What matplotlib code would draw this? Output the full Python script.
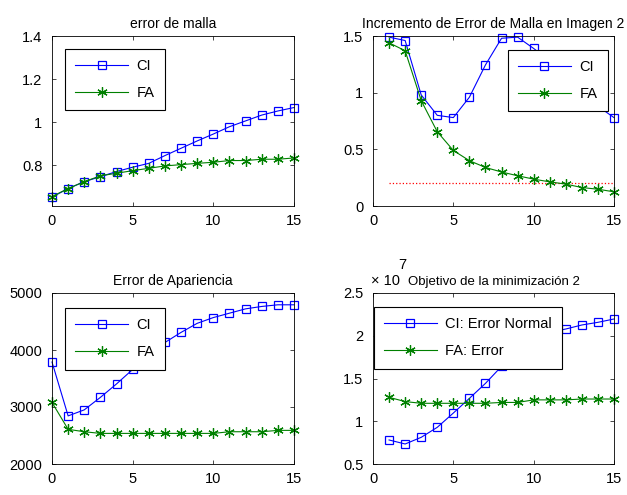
import matplotlib
matplotlib.use("Agg")
import matplotlib.pyplot as plt
from matplotlib.ticker import FuncFormatter

plt.rcParams['font.family'] = ['Liberation Sans', 'DejaVu Sans']

# error de malla (x = 0..15)
x_malla = list(range(0, 16))
ci_malla = [0.652, 0.692, 0.724, 0.747, 0.771, 0.791, 0.809, 0.845,
            0.879, 0.913, 0.945, 0.979, 1.006, 1.033, 1.052, 1.068]
fa_malla = [0.655, 0.692, 0.724, 0.751, 0.763, 0.775, 0.786, 0.797,
            0.803, 0.809, 0.814, 0.822, 0.822, 0.828, 0.828, 0.834]

# incremento de error de malla (x = 1..15)
x_inc = list(range(1, 16))
ci_inc = [1.49, 1.46, 0.98, 0.80, 0.78, 0.96, 1.245, 1.48, 1.49, 1.39,
          1.28, 1.12, 1.00, 0.88, 0.78]
fa_inc = [1.44, 1.37, 0.93, 0.655, 0.49, 0.40, 0.34, 0.30, 0.267, 0.237,
          0.213, 0.193, 0.163, 0.148, 0.125]
umbral = [0.2, 0.2]
x_umbral = [1, 15]

# error de apariencia (x = 0..15)
x_apar = list(range(0, 16))
ci_apar = [3789, 2844, 2950, 3169, 3405, 3659, 3900, 4132, 4309, 4468,
           4569, 4646, 4722, 4764, 4793, 4793]
fa_apar = [3080, 2608, 2566, 2537, 2537, 2537, 2537, 2537, 2537, 2537,
           2537, 2566, 2566, 2566, 2590, 2590]

# objetivo de la minimizacion (x = 1..15), x 1e7
x_obj = list(range(1, 16))
ci_obj = [0.781, 0.734, 0.812, 0.929, 1.096, 1.268, 1.443, 1.642, 1.85,
          1.97, 2.04, 2.079, 2.126, 2.157, 2.196]
fa_obj = [1.28, 1.23, 1.21, 1.21, 1.21, 1.21, 1.21, 1.22, 1.22, 1.25,
          1.25, 1.25, 1.26, 1.26, 1.26]

BLUE = (0, 0, 1)
GREEN = (0, 0.5, 0)
ASTER = (6, 2, 0)

fig = plt.figure(figsize=(6.27, 4.95), dpi=100)
W, H = 627, 495


def make_ax(l, t, r, b):
    return fig.add_axes([l / W, (H - b) / H, (r - l) / W, (b - t) / H])


def style(ax, title, ylim, yticks, tsize=10):
    ax.set_xlim(0, 15)
    ax.set_ylim(*ylim)
    ax.set_xticks([0, 5, 10, 15])
    ax.set_yticks(yticks)
    ax.yaxis.set_major_formatter(FuncFormatter(lambda v, p: '%g' % v))
    ax.tick_params(direction='in', top=True, right=True, labelsize=10.5,
                   length=3, width=0.5)
    ax.tick_params(axis='x', pad=6)
    ax.tick_params(axis='y', pad=7)
    for s in ax.spines.values():
        s.set_linewidth(0.6)
    ax.set_title(title, fontsize=tsize, pad=6)


def series(ax, x, ci, fa, labels, anchor):
    ax.plot(x, ci, color=BLUE, marker='s', mfc='none', mec=BLUE, ms=6,
            mew=0.9, lw=0.8, label=labels[0], clip_on=False)
    ax.plot(x, fa, color=GREEN, marker=ASTER, mfc=GREEN, mec=GREEN, ms=7.5,
            mew=0.9, lw=0.8, label=labels[1], clip_on=False)
    leg = ax.legend(loc='upper left', bbox_to_anchor=anchor, borderaxespad=0,
                    fontsize=10.5, handlelength=3.6, labelspacing=0.9,
                    fancybox=False, framealpha=1, edgecolor='black',
                    borderpad=0.7, handletextpad=0.6)
    leg.get_frame().set_linewidth(0.8)
    leg.set_zorder(5)


ax1 = make_ax(52, 36, 294, 206)
series(ax1, x_malla, ci_malla, fa_malla, ['CI', 'FA'], (0.054, 0.924))
style(ax1, 'error de malla', (0.611, 1.4), [0.8, 1.0, 1.2, 1.4])

ax2 = make_ax(373, 36, 614, 206)
ax2.plot(x_umbral, umbral, color='red', ls=':', lw=0.9)
series(ax2, x_inc, ci_inc, fa_inc, ['CI', 'FA'], (0.56, 0.918))
style(ax2, 'Incremento de Error de Malla en Imagen 2', (0, 1.5),
      [0, 0.5, 1.0, 1.5])

ax3 = make_ax(52, 293, 294, 464)
series(ax3, x_apar, ci_apar, fa_apar, ['CI', 'FA'], (0.054, 0.912))
style(ax3, 'Error de Apariencia', (2000, 5000), [2000, 3000, 4000, 5000])

ax4 = make_ax(373, 293, 614, 464)
series(ax4, x_obj, ci_obj, fa_obj, ['CI: Error Normal', 'FA: Error'],
       (0.004, 0.918))
style(ax4, 'Objetivo de la minimización 2', (0.5, 2.5),
      [0.5, 1.0, 1.5, 2.0, 2.5], tsize=9.5)
ax4.text(-0.01, 1.03, '× 10', transform=ax4.transAxes, fontsize=10.5,
         ha='left', va='bottom')
ax4.text(0.105, 1.125, '7', transform=ax4.transAxes, fontsize=10.5,
         ha='left', va='bottom')

fig.savefig('out.png', dpi=100, facecolor='white')
